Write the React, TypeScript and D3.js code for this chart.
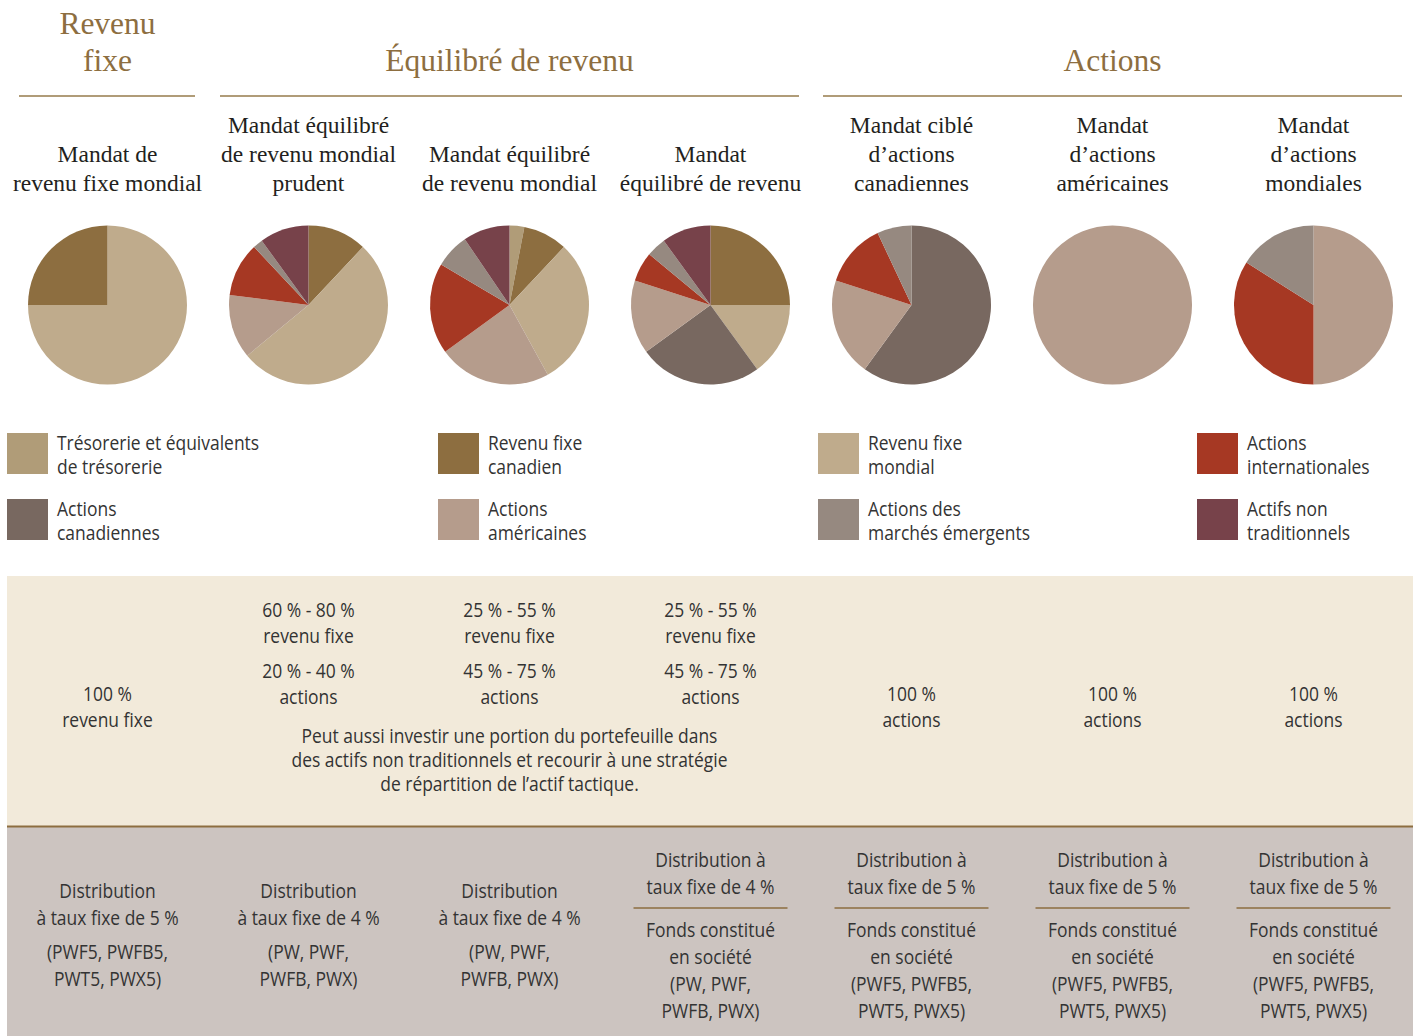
import React from "react";
import * as d3 from "d3";

const W = 1413;
const H = 1036;

// Categories and colours
const categories = [
  "Trésorerie et équivalents de trésorerie",
  "Revenu fixe canadien",
  "Revenu fixe mondial",
  "Actions internationales",
  "Actions canadiennes",
  "Actions américaines",
  "Actions des marchés émergents",
  "Actifs non traditionnels",
];
const categoryColors = ["#B09C78", "#8D6E40", "#BFAB8C", "#A63823", "#786860", "#B59C8C", "#968980", "#77424A"];

// Group headers
const groupTitles = [["Revenu", "fixe"], ["Équilibré de revenu"], ["Actions"]];
const groupSpans = [[0, 0], [1, 3], [4, 6]];

// Fund titles (columns)
const fundTitles = [
  ["Mandat de", "revenu fixe mondial"],
  ["Mandat équilibré", "de revenu mondial", "prudent"],
  ["Mandat équilibré", "de revenu mondial"],
  ["Mandat", "équilibré de revenu"],
  ["Mandat ciblé", "d’actions", "canadiennes"],
  ["Mandat", "d’actions", "américaines"],
  ["Mandat", "d’actions", "mondiales"],
];

// Pie compositions (clockwise from 12 o'clock): category index + weight (%)
const pie1Cats = [2, 1];
const pie1Vals = [75, 25];
const pie2Cats = [1, 2, 5, 3, 6, 7];
const pie2Vals = [12, 52, 13, 11, 2, 10];
const pie3Cats = [0, 1, 2, 5, 3, 6, 7];
const pie3Vals = [3, 9, 30, 23, 18.5, 7, 9.5];
const pie4Cats = [1, 2, 4, 5, 3, 6, 7];
const pie4Vals = [25, 15, 25, 15, 6, 4, 10];
const pie5Cats = [4, 5, 3, 6];
const pie5Vals = [60, 20, 13, 7];
const pie6Cats = [5];
const pie6Vals = [100];
const pie7Cats = [5, 3, 6];
const pie7Vals = [50, 34, 16];
const pieCats = [pie1Cats, pie2Cats, pie3Cats, pie4Cats, pie5Cats, pie6Cats, pie7Cats];
const pieVals = [pie1Vals, pie2Vals, pie3Vals, pie4Vals, pie5Vals, pie6Vals, pie7Vals];

// Legend (two rows x four columns)
const legendLines = [
  ["Trésorerie et équivalents", "de trésorerie"],
  ["Revenu fixe", "canadien"],
  ["Revenu fixe", "mondial"],
  ["Actions", "internationales"],
  ["Actions", "canadiennes"],
  ["Actions", "américaines"],
  ["Actions des", "marchés émergents"],
  ["Actifs non", "traditionnels"],
];
const legendCats = [0, 1, 2, 3, 4, 5, 6, 7];

// Allocation band
const allocSingle = [["100 %", "revenu fixe"], null, null, null, ["100 %", "actions"], ["100 %", "actions"], ["100 %", "actions"]];
const allocRanges = [null, ["60 % - 80 %", "revenu fixe", "20 % - 40 %", "actions"], ["25 % - 55 %", "revenu fixe", "45 % - 75 %", "actions"], ["25 % - 55 %", "revenu fixe", "45 % - 75 %", "actions"], null, null, null];
const allocNote = [
  "Peut aussi investir une portion du portefeuille dans",
  "des actifs non traditionnels et recourir à une stratégie",
  "de répartition de l’actif tactique.",
];

// Distribution band
const distSimple = [
  ["Distribution", "à taux fixe de 5 %", "(PWF5, PWFB5,", "PWT5, PWX5)"],
  ["Distribution", "à taux fixe de 4 %", "(PW, PWF,", "PWFB, PWX)"],
  ["Distribution", "à taux fixe de 4 %", "(PW, PWF,", "PWFB, PWX)"],
  null, null, null, null,
];
const distTop = [null, null, null, ["Distribution à", "taux fixe de 4 %"], ["Distribution à", "taux fixe de 5 %"], ["Distribution à", "taux fixe de 5 %"], ["Distribution à", "taux fixe de 5 %"]];
const distBottom = [null, null, null,
  ["Fonds constitué", "en société", "(PW, PWF,", "PWFB, PWX)"],
  ["Fonds constitué", "en société", "(PWF5, PWFB5,", "PWT5, PWX5)"],
  ["Fonds constitué", "en société", "(PWF5, PWFB5,", "PWT5, PWX5)"],
  ["Fonds constitué", "en société", "(PWF5, PWFB5,", "PWT5, PWX5)"],
];

const SERIF = "'Liberation Serif', 'DejaVu Serif', serif";
const SANS = "'Liberation Sans Narrow', 'Open Sans', 'DejaVu Sans', sans-serif";
const GOLD = "#8D6E40";
const TEXT = "#333333";
const SQUEEZE = 0.895;
const FS = 19.5;

function SText({ x, y, anchor = "middle", children }: { x: number; y: number; anchor?: string; children: React.ReactNode }) {
  return (
    <text transform={`translate(${x},${y}) scale(${SQUEEZE},1)`} textAnchor={anchor} dominantBaseline="central"
      fontFamily={SANS} fontSize={FS} fill={TEXT}>{children}</text>
  );
}

export default function App() {
  const col = d3.scaleBand<number>().domain(d3.range(7)).range([7, 1414]).paddingInner(0);
  const cx = (i: number) => (col(i) as number) + col.bandwidth() / 2;
  const pieGen = d3.pie<number>().sort(null).value((d) => d);
  const arcGen = d3.arc<d3.PieArcDatum<number>>().innerRadius(0).outerRadius(79.5);
  const pieY = 305;

  const lineSpans = [[19, 195], [220, 799], [823, 1402]];
  const legendX = [7, 438, 818, 1197];
  const legendY = [433, 499];

  return (
    <svg width={W} height={H} style={{ position: "absolute", left: 0, top: 0, background: "#fff" }}>
      {/* Group headers */}
      {groupTitles.map((lines, g) => {
        const x = (cx(groupSpans[g][0]) + cx(groupSpans[g][1])) / 2;
        const startY = lines.length === 2 ? 23 : 60;
        return (
          <g key={"gt" + g}>
            {lines.map((t, j) => (
              <text key={j} x={x} y={startY + j * 37} textAnchor="middle" dominantBaseline="central"
                fontFamily={SERIF} fontSize={31.5} fill={GOLD}>{t}</text>
            ))}
            <line x1={lineSpans[g][0]} x2={lineSpans[g][1]} y1={96} y2={96} stroke="#B09C78" strokeWidth={2} />
          </g>
        );
      })}

      {/* Fund titles */}
      {fundTitles.map((lines, i) => (
        <g key={"ft" + i}>
          {lines.map((t, j) => (
            <text key={j} x={cx(i)} y={183 - (lines.length - 1 - j) * 29} textAnchor="middle" dominantBaseline="central"
              fontFamily={SERIF} fontSize={23.5} fill="#231F20">{t}</text>
          ))}
        </g>
      ))}

      {/* Pies */}
      {pieVals.map((vals, i) => (
        <g key={"pie" + i} transform={`translate(${cx(i)},${pieY})`}>
          {pieGen(vals).map((a, j) => (
            <path key={j} d={arcGen(a) as string} fill={categoryColors[pieCats[i][j]]} />
          ))}
        </g>
      ))}

      {/* Legend */}
      {legendCats.map((c, k) => {
        const x = legendX[k % 4];
        const y = legendY[Math.floor(k / 4)];
        return (
          <g key={"lg" + k}>
            <rect x={x} y={y} width={41} height={41} fill={categoryColors[c]} />
            {legendLines[k].map((t, j) => (
              <SText key={j} x={x + 50} y={y + 9 + j * 24} anchor="start">{t}</SText>
            ))}
          </g>
        );
      })}

      {/* Allocation band */}
      <rect x={7} y={576} width={W - 7} height={250} fill="#F2EADA" />
      {allocSingle.map((lines, i) =>
        lines ? (
          <g key={"as" + i}>
            {lines.map((t, j) => (
              <SText key={j} x={cx(i)} y={693 + j * 26}>{t}</SText>
            ))}
          </g>
        ) : null
      )}
      {allocRanges.map((lines, i) =>
        lines ? (
          <g key={"ar" + i}>
            {lines.map((t, j) => (
              <SText key={j} x={cx(i)} y={609 + j * 26 + (j >= 2 ? 9 : 0)}>{t}</SText>
            ))}
          </g>
        ) : null
      )}
      {allocNote.map((t, j) => (
        <SText key={"an" + j} x={cx(2)} y={735 + j * 24}>{t}</SText>
      ))}

      {/* Distribution band */}
      <rect x={7} y={827} width={W - 7} height={H - 827} fill="#CCC4C0" />
      <line x1={7} x2={W} y1={826.5} y2={826.5} stroke={GOLD} strokeWidth={2} />
      {distSimple.map((lines, i) =>
        lines ? (
          <g key={"ds" + i}>
            {lines.map((t, j) => (
              <SText key={j} x={cx(i)} y={890 + j * 27 + (j >= 2 ? 7 : 0)}>{t}</SText>
            ))}
          </g>
        ) : null
      )}
      {distTop.map((lines, i) =>
        lines ? (
          <g key={"dt" + i}>
            {lines.map((t, j) => (
              <SText key={j} x={cx(i)} y={859 + j * 27}>{t}</SText>
            ))}
            <line x1={cx(i) - 77} x2={cx(i) + 77} y1={908} y2={908} stroke={GOLD} strokeWidth={1.5} />
            {(distBottom[i] as string[]).map((t, j) => (
              <SText key={"b" + j} x={cx(i)} y={929 + j * 27}>{t}</SText>
            ))}
          </g>
        ) : null
      )}
    </svg>
  );
}
